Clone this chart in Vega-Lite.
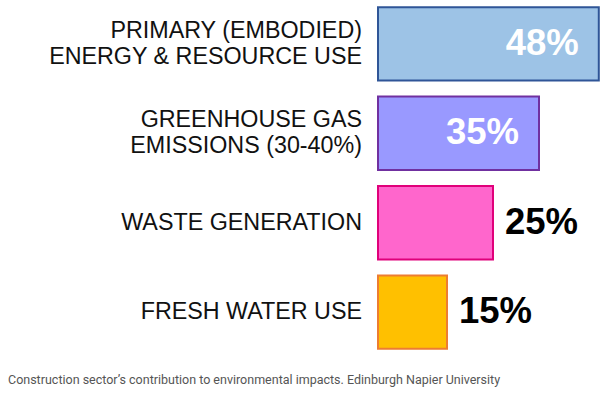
{
  "$schema": "https://vega.github.io/schema/vega-lite/v6.json",
  "width": 230,
  "height": 356,
  "autosize": {"type": "none"},
  "padding": {"left": 378, "top": 0, "right": 0, "bottom": 38},
  "background": "white",
  "config": {"view": {"stroke": null}},
  "title": {
    "text": "Construction sector’s contribution to environmental impacts. Edinburgh Napier University",
    "orient": "bottom",
    "anchor": "start",
    "frame": "group",
    "dx": -370,
    "offset": 18,
    "font": "Roboto",
    "fontSize": 12.5,
    "fontWeight": "normal",
    "color": "#555555"
  },
  "data": {
    "values": [
      {"category": "PRIMARY (EMBODIED)\nENERGY & RESOURCE USE", "value": 48, "label": "48%"},
      {"category": "GREENHOUSE GAS\nEMISSIONS (30-40%)", "value": 35, "label": "35%"},
      {"category": "WASTE GENERATION", "value": 25, "label": "25%"},
      {"category": "FRESH WATER USE", "value": 15, "label": "15%"}
    ]
  },
  "encoding": {
    "y": {
      "field": "category",
      "type": "nominal",
      "sort": null,
      "axis": null,
      "scale": {"paddingInner": 0.18, "paddingOuter": 0.08}
    }
  },
  "layer": [
    {
      "mark": {"type": "bar", "strokeWidth": 2},
      "encoding": {
        "x": {"field": "value", "type": "quantitative", "axis": null, "scale": {"domain": [0, 50]}},
        "color": {
          "field": "category",
          "type": "nominal",
          "legend": null,
          "sort": null,
          "scale": {"range": ["#9dc3e6", "#9999ff", "#ff66cc", "#ffc000"]}
        },
        "stroke": {
          "field": "category",
          "type": "nominal",
          "legend": null,
          "sort": null,
          "scale": {"range": ["#2f5597", "#7030a0", "#e0007a", "#ed7d31"]}
        },
        "fillOpacity": {"value": 1}
      }
    },
    {
      "transform": [{"filter": "indexof(datum.category, '\\n') >= 0"}],
      "mark": {
        "type": "text",
        "align": "right",
        "baseline": "middle",
        "dx": -16,
        "dy": -13,
        "font": "Liberation Sans",
        "fontSize": 23.3,
        "lineHeight": 26,
        "lineBreak": "\n",
        "color": "#111111"
      },
      "encoding": {
        "x": {"datum": 0, "type": "quantitative"},
        "text": {"field": "category"}
      }
    },
    {
      "transform": [{"filter": "indexof(datum.category, '\\n') < 0"}],
      "mark": {
        "type": "text",
        "align": "right",
        "baseline": "middle",
        "dx": -16,
        "font": "Liberation Sans",
        "fontSize": 23.3,
        "color": "#111111"
      },
      "encoding": {
        "x": {"datum": 0, "type": "quantitative"},
        "text": {"field": "category"}
      }
    },
    {
      "transform": [{"filter": "datum.value >= 30"}],
      "mark": {
        "type": "text",
        "align": "right",
        "baseline": "middle",
        "dx": -20,
        "font": "Liberation Sans",
        "fontSize": 36.5,
        "fontWeight": "bold",
        "color": "white"
      },
      "encoding": {
        "x": {"field": "value", "type": "quantitative"},
        "text": {"field": "label"}
      }
    },
    {
      "transform": [{"filter": "datum.value < 30"}],
      "mark": {
        "type": "text",
        "align": "left",
        "baseline": "middle",
        "dx": 12,
        "font": "Liberation Sans",
        "fontSize": 36.5,
        "fontWeight": "bold",
        "color": "black"
      },
      "encoding": {
        "x": {"field": "value", "type": "quantitative"},
        "text": {"field": "label"}
      }
    }
  ]
}
